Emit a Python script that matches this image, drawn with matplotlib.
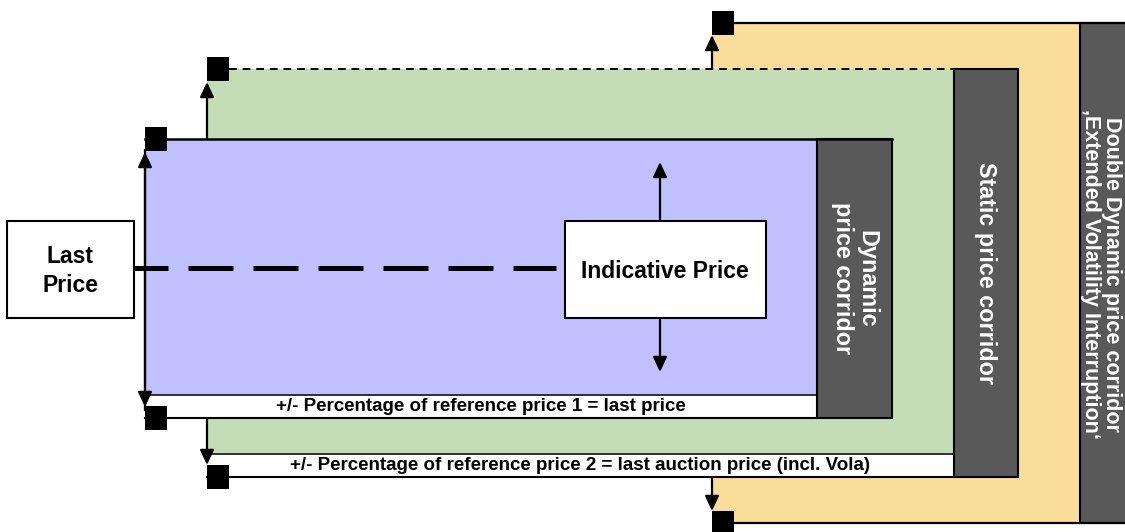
import matplotlib
matplotlib.use("Agg")
import matplotlib.pyplot as plt
from matplotlib.patches import Rectangle

plt.rcParams["font.family"] = ["Liberation Sans", "DejaVu Sans"]
plt.rcParams["font.weight"] = "bold"

# corridor layout in picture units (x from left, y from top)
corridor_names = ["dynamic", "static", "double"]
corridor_left = [145, 207, 712]
corridor_top = [139, 69, 23]
corridor_band_left = [817, 954, 1080]   # dark label column
corridor_band_right = [892, 1018, 1135]
corridor_bottom = [418, 477, 523]
corridor_colors = ["#C0C0FF", "#C4DDB7", "#FADC9B"]
corridor_labels = ["Dynamic\nprice corridor",
                   "Static price corridor",
                   "Double Dynamic price corridor\n\u201aExtended Volatility Interruption\u2018"]
strip_labels = ["+/- Percentage of reference price 1 = last price",
                "+/- Percentage of reference price 2 = last auction price (incl. Vola)",
                None]
STRIP_H = 23
DARK = "#595959"

fig = plt.figure(figsize=(11.25, 5.32), dpi=100)
ax = fig.add_axes([0, 0, 1, 1])
ax.set_xlim(0, 1125)
ax.set_ylim(532, 0)
ax.axis("off")


def arrow(x, y0, y1, z=6):
    ax.annotate("", xy=(x, y1), xytext=(x, y0),
                arrowprops=dict(arrowstyle="-|>,head_length=0.9,head_width=0.42",
                                color="black", lw=1.6, shrinkA=0, shrinkB=0),
                zorder=z)


# draw outer to inner
for i in [2, 1, 0]:
    L, T, B = corridor_left[i], corridor_top[i], corridor_bottom[i]
    bl, br = corridor_band_left[i], corridor_band_right[i]
    z = 2 + (2 - i) * 3
    ax.add_patch(Rectangle((L, T), bl - L, B - T, facecolor=corridor_colors[i],
                           edgecolor="none", zorder=z))
    if strip_labels[i]:
        ax.add_patch(Rectangle((L, B - STRIP_H), bl - L, STRIP_H, facecolor="white",
                               edgecolor="none", zorder=z))
        ax.plot([L, bl], [B - STRIP_H, B - STRIP_H], color="#222222", lw=1.3, zorder=z + 1)
        ax.plot([L, bl], [B, B], color="black", lw=1.5, zorder=z + 1)
        ax.text((L + bl) / 2, B - STRIP_H / 2, strip_labels[i], ha="center", va="center",
                fontsize=13.5, zorder=z + 2)
    ax.add_patch(Rectangle((bl, T), br - bl, B - T, facecolor=DARK,
                           edgecolor="black", lw=1.5, zorder=z + 1))
    if i < 2:
        ax.text((bl + br) / 2, (T + B) / 2, corridor_labels[i],
                rotation=-90, ha="center", va="center", multialignment="center",
                color="white", fontsize=16.8, linespacing=1.1, zorder=z + 2)
    else:
        ax.text(1101, 274, corridor_labels[i],
                rotation=-90, ha="center", va="center", multialignment="center",
                color="white", fontsize=15.5, linespacing=1.0, zorder=z + 2)
    # top and bottom edge lines
    if i == 0:
        ax.plot([L, br], [T, T], color="black", lw=1.8, zorder=z + 1)
    elif i == 1:
        ax.plot([L + 22, br], [T, T], color="black", lw=1.4, ls=(0, (4, 3)), zorder=z + 1)
    else:
        ax.plot([L + 22, 1125], [T, T], color="black", lw=1.6, zorder=z + 1)
        ax.plot([L + 22, 1125], [B, B], color="black", lw=1.6, zorder=z + 1)

    # black markers at the corridor corners
    ax.add_patch(Rectangle((L, T - 12), 22, 24, facecolor="black", zorder=20))
    ax.add_patch(Rectangle((L, B - 12), 22, 24, facecolor="black", zorder=20))

# arrows on left edges
arrow(145, 280, 152, 9)
arrow(145, 280, 407, 9)
arrow(207, 139, 82, 7)
arrow(207, 418, 465, 7)
arrow(712, 69, 35, 4)
arrow(712, 477, 511, 4)
ax.plot([145, 145], [150, 410], color="black", lw=1.6, zorder=9)

# last price and indicative price
ax.plot([123, 556], [268, 268], color="black", lw=3.6, ls=(0, (9, 4)), zorder=10)
ax.add_patch(Rectangle((7, 221), 127, 97, facecolor="white", edgecolor="black", lw=1.5, zorder=11))
ax.text(70, 271, "Last\nPrice", ha="center", va="center", fontsize=16.5,
        linespacing=1.35, zorder=12)
arrow(660, 221, 162, 10)
arrow(660, 318, 372, 10)
ax.add_patch(Rectangle((565, 221), 201, 97, facecolor="white", edgecolor="black", lw=1.5, zorder=11))
ax.text(665, 271, "Indicative Price", ha="center", va="center", fontsize=16.5, zorder=12)

fig.savefig("out.png", dpi=100)
